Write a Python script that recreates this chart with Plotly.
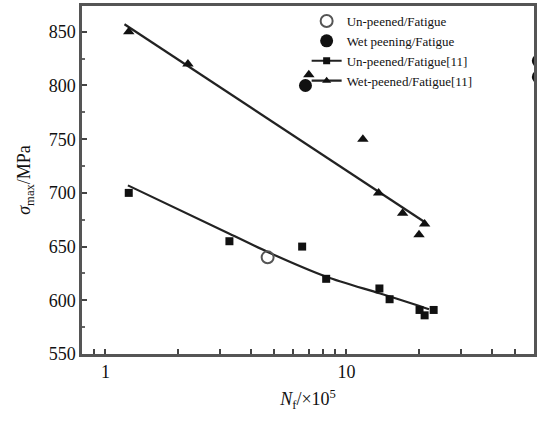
import plotly.graph_objects as go

# Data
unpeened_x = [4.71]
unpeened_y = [640]

wet_x = [6.76, 62.5, 62.5]
wet_y = [800, 823, 808]

ref_unpeened_x = [1.25, 3.27, 6.55, 8.24, 13.7, 15.1, 20.1, 21.1, 23.0]
ref_unpeened_y = [700, 655, 650, 620, 611, 601, 591, 586, 591]

ref_wet_x = [1.25, 2.2, 6.98, 11.7, 13.6, 17.1, 21.1, 20.0]
ref_wet_y = [850, 820, 810, 750, 700, 681, 671, 661]

fit_unpeened_x = [1.24, 3.27, 4.71, 8.24, 13.7, 20.1, 22.0]
fit_unpeened_y = [707, 662, 645, 622, 606.5, 594.7, 591.6]

fit_wet_x = [1.2, 21.4]
fit_wet_y = [857, 672]

y_ticks = [550, 600, 650, 700, 750, 800, 850]
x_tickvals = [0.8, 0.9, 1, 2, 3, 4, 5, 6, 7, 8, 9, 10, 20, 30, 40, 50]
x_ticktext = ["", "", "1", "", "", "", "", "", "", "", "", "10", "", "", "", ""]

FONT = "Liberation Serif, Times New Roman, serif"
BLACK = "#111111"

fig = go.Figure()

# fit lines
fig.add_trace(go.Scatter(x=fit_unpeened_x, y=fit_unpeened_y, mode="lines",
                         line=dict(color="#222", width=2.2, shape="spline", smoothing=0.8),
                         showlegend=False, hoverinfo="skip"))
fig.add_trace(go.Scatter(x=fit_wet_x, y=fit_wet_y, mode="lines",
                         line=dict(color="#222", width=2.2),
                         showlegend=False, hoverinfo="skip"))

fig.add_trace(go.Scatter(x=unpeened_x, y=unpeened_y, mode="markers",
                         name="Un-peened/Fatigue",
                         marker=dict(symbol="circle-open", size=12, color="#555",
                                     line=dict(width=2, color="#555"))))
fig.add_trace(go.Scatter(x=wet_x, y=wet_y, mode="markers",
                         name="Wet peening/Fatigue", cliponaxis=True,
                         marker=dict(symbol="circle", size=13, color=BLACK)))
fig.add_trace(go.Scatter(x=ref_unpeened_x, y=ref_unpeened_y, mode="markers",
                         name="Un-peened/Fatigue[11]", showlegend=False,
                         marker=dict(symbol="square", size=8, color=BLACK)))
fig.add_trace(go.Scatter(x=ref_wet_x, y=ref_wet_y, mode="markers",
                         name="Wet-peened/Fatigue[11]", showlegend=False,
                         marker=dict(symbol="triangle-up", size=10, color=BLACK)))

# legend entries showing line + marker for the [11] series
fig.add_trace(go.Scatter(x=[None], y=[None], mode="lines+markers",
                         name="Un-peened/Fatigue[11]",
                         line=dict(color="#222", width=2.2),
                         marker=dict(symbol="square", size=7, color=BLACK)))
fig.add_trace(go.Scatter(x=[None], y=[None], mode="lines+markers",
                         name="Wet-peened/Fatigue[11]",
                         line=dict(color="#222", width=2.2),
                         marker=dict(symbol="triangle-up", size=8, color=BLACK)))

fig.update_layout(
    width=537, height=428,
    margin=dict(l=82, r=3, t=6, b=74, autoexpand=False),
    paper_bgcolor="white", plot_bgcolor="white",
    font=dict(family=FONT, color=BLACK, size=17),
    showlegend=True,
    legend=dict(x=0.497, y=1.0, xanchor="left", yanchor="top",
                bgcolor="rgba(255,255,255,0)", font=dict(size=13, family=FONT, color=BLACK),
                tracegroupgap=0),
    xaxis=dict(type="log", range=[-0.097, 1.778], automargin=False,
               tickvals=x_tickvals, ticktext=x_ticktext,
               ticks="inside", ticklen=5, tickcolor="#444", tickwidth=1.5,
               showline=True, mirror=True, linecolor="#555", linewidth=2.5,
               showgrid=False, zeroline=False,
               tickfont=dict(size=18, family=FONT),
               title=dict(text="<i>N</i><sub>f</sub>/×10<sup>5</sup>",
                          font=dict(size=18, family=FONT), standoff=12)),
    yaxis=dict(range=[550, 874], tickvals=y_ticks, automargin=False,
               ticks="inside", ticklen=5, tickcolor="#444", tickwidth=1.5,
               minor=dict(ticks="inside", ticklen=3, dtick=25, tickcolor="#666"),
               showline=True, mirror=True, linecolor="#555", linewidth=2.5,
               showgrid=False, zeroline=False,
               tickfont=dict(size=18, family=FONT),
               title=dict(text="<i>σ</i><sub>max</sub>/MPa",
                          font=dict(size=18, family=FONT), standoff=14)),
)

fig.write_html("out.html", config={"displayModeBar": False},
               post_script="document.body.style.margin='0';document.body.style.overflow='hidden';")
